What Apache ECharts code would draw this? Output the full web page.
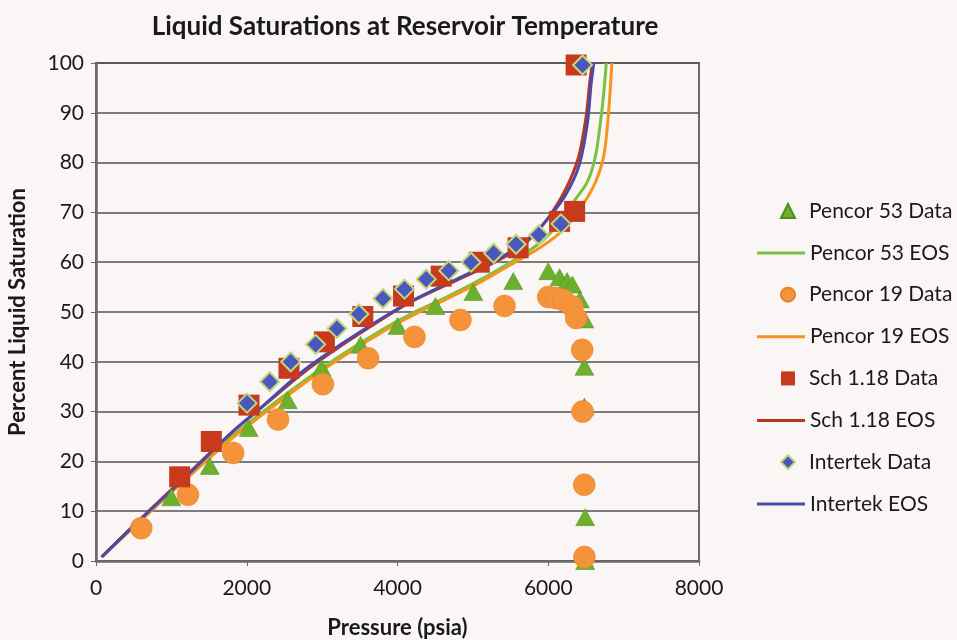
<!DOCTYPE html>
<html><head><meta charset="utf-8">
<script src="https://cdn.jsdelivr.net/npm/echarts@6/dist/echarts.min.js"></script>
<style>html,body{margin:0;padding:0;background:#fbf6f6}#c{width:957px;height:640px}</style>
</head><body><div id="c"></div>
<script>
// ---- data ----
const xTicks = [0, 2000, 4000, 6000, 8000];
const yTicks = [0, 10, 20, 30, 40, 50, 60, 70, 80, 90, 100];

const p53DataP = [1000, 1510, 2026, 2543, 2993, 3510, 4000, 4503, 5007, 5536, 6000, 6150, 6250, 6320, 6420, 6480, 6480, 6480, 6490, 6490];
const p53DataS = [12.8, 19.1, 26.7, 32.3, 38.8, 43.4, 47.2, 51.2, 54.0, 56.2, 58.2, 57.0, 56.2, 55.5, 52.5, 48.5, 39.0, 31.0, 8.8, 0.0];

const p19DataP = [600, 1220, 1820, 2415, 3010, 3610, 4225, 4835, 5420, 6000, 6100, 6200, 6320, 6370, 6450, 6455, 6477, 6480];
const p19DataS = [6.6, 13.3, 21.7, 28.4, 35.5, 40.7, 45.0, 48.4, 51.2, 53.0, 52.8, 52.4, 51.1, 48.8, 42.4, 30.0, 15.3, 0.8];

const schDataP = [1110, 1530, 2030, 2560, 3030, 3540, 4080, 4580, 5085, 5600, 6150, 6350, 6370];
const schDataS = [16.9, 24.0, 31.3, 38.7, 44.0, 49.1, 53.2, 57.2, 60.0, 62.9, 68.2, 70.2, 99.6];

const intDataP = [2004, 2305, 2583, 2914, 3197, 3488, 3806, 4093, 4380, 4680, 4976, 5275, 5573, 5873, 6169, 6455];
const intDataS = [31.7, 36.0, 40.0, 43.5, 46.7, 49.6, 52.7, 54.6, 56.6, 58.3, 60.0, 61.8, 63.6, 65.5, 67.7, 99.6];

const p53EosP = [75, 600, 1200, 1800, 2200, 2700, 3200, 3800, 4200, 4650, 5100, 5500, 5900, 6150, 6320, 6520, 6630, 6720, 6770];
const p53EosS = [0.8, 8.3, 16.8, 25.0, 29.8, 35.5, 40.8, 46.5, 49.8, 53.0, 56.5, 60.0, 64.0, 68.0, 71.8, 76.2, 81.6, 91.6, 100];

const p19EosP = [75, 600, 1200, 1800, 2200, 2700, 3200, 3800, 4200, 4650, 5100, 5500, 5900, 6200, 6477, 6630, 6740, 6808, 6843];
const p19EosS = [0.8, 8.2, 16.5, 24.6, 29.3, 35.0, 40.3, 46.0, 49.3, 52.6, 56.0, 59.5, 63.0, 66.5, 72.0, 76.2, 81.6, 91.6, 100];

const schEosP = [75, 600, 1200, 1800, 2250, 2750, 3250, 3800, 4200, 4700, 5200, 5600, 5800, 6000, 6220, 6400, 6500, 6550, 6585];
const schEosS = [0.8, 8.6, 17.2, 25.8, 31.5, 37.8, 43.2, 48.6, 52.2, 55.8, 59.3, 62.7, 65.3, 68.9, 74.3, 81.0, 89.0, 96.0, 100];

const intEosP = [75, 600, 1200, 1800, 2250, 2750, 3250, 3800, 4200, 4700, 5200, 5600, 5800, 6000, 6230, 6410, 6520, 6570, 6605];
const intEosS = [0.8, 8.5, 17.0, 25.8, 31.6, 38.2, 43.5, 48.8, 52.3, 56.0, 59.6, 63.0, 65.6, 68.8, 73.5, 79.5, 88.0, 96.0, 100];

const names = ['Pencor 53 Data','Pencor 53 EOS','Pencor 19 Data','Pencor 19 EOS','Sch 1.18 Data','Sch 1.18 EOS','Intertek Data','Intertek EOS'];

function zip(a, b){ return a.map((v, i) => [v, b[i]]); }

const FONT = 'Lato';
const cGreen = '#6cb02c', cGreenL = '#7cc242';
const cOrange = '#f5933a', cOrangeL = '#f7941d';
const cRed = '#c83a1e', cRedL = '#b8361f';
const cBlue = '#4a58bd', cBlueL = '#4a4aa8';

const chart = echarts.init(document.getElementById('c'));
chart.setOption({
  backgroundColor: '#fbf6f6',
  animation: false,
  title: {
    text: 'Liquid Saturations at Reservoir Temperature',
    left: 400, top: 9, textAlign: 'center',
    textStyle: { fontFamily: FONT, fontWeight: 'bold', fontSize: 26, color: '#1a1a1a' }
  },
  grid: { left: 96, right: 258, top: 63, bottom: 79, outerBoundsMode: 'none', containLabel: false,
    show: true, borderColor: '#6a6a6a', borderWidth: 2, backgroundColor: 'transparent' },
  legend: [{
    data: [
      { name: names[0], icon: 'triangle' },
      { name: names[2], icon: 'circle' },
      { name: names[4], icon: 'rect' },
      { name: names[6], icon: 'diamond' }
    ],
    orient: 'vertical', left: 780, top: 200, padding: 0, itemWidth: 14, itemHeight: 14, itemGap: 61.7,
    textStyle: { fontFamily: FONT, fontSize: 21, color: '#1a1a1a', lineHeight: 22, padding: [0,0,0,9] },
    selectedMode: false
  }, {
    data: [
      { name: names[1], icon: 'rect' },
      { name: names[3], icon: 'rect' },
      { name: names[5], icon: 'rect' },
      { name: names[7], icon: 'rect' }
    ],
    orient: 'vertical', left: 757, top: 242, padding: 0, itemWidth: 48, itemHeight: 3, itemGap: 61.7,
    textStyle: { fontFamily: FONT, fontSize: 21, color: '#1a1a1a', lineHeight: 22 },
    selectedMode: false
  }],
  xAxis: {
    type: 'value', min: 0, max: 8000, interval: 2000,
    name: 'Pressure (psia)', nameLocation: 'middle', nameGap: 56,
    nameTextStyle: { fontFamily: FONT, fontWeight: 'bold', fontSize: 22, color: '#1a1a1a' },
    axisLine: { show: true, lineStyle: { color: '#6a6a6a', width: 2.5 } },
    axisTick: { show: true, length: 5, lineStyle: { color: '#6a6a6a' } },
    axisLabel: { fontFamily: FONT, fontSize: 21, color: '#1a1a1a', margin: 17,
      formatter: v => xTicks.includes(v) ? String(v) : '' },
    splitLine: { show: false }
  },
  yAxis: {
    type: 'value', min: 0, max: 100, interval: 10,
    name: 'Percent Liquid Saturation', nameLocation: 'middle', nameGap: 67, nameRotate: 90,
    nameTextStyle: { fontFamily: FONT, fontWeight: 'bold', fontSize: 22, color: '#1a1a1a' },
    axisLine: { show: true, lineStyle: { color: '#6a6a6a', width: 2.5 } },
    axisTick: { show: true, length: 5, lineStyle: { color: '#6a6a6a' } },
    axisLabel: { fontFamily: FONT, fontSize: 21, color: '#1a1a1a', margin: 12,
      formatter: v => yTicks.includes(v) ? String(v) : '' },
    splitLine: { show: true, lineStyle: { color: '#555555', width: 1.5 } }
  },
  series: [
    { name: names[0], type: 'scatter', z: 3, symbol: 'triangle', symbolSize: [19, 17],
      itemStyle: { color: cGreen, opacity: 1, borderColor: '#4e8f1c', borderWidth: 0.5 }, data: zip(p53DataP, p53DataS) },
    { name: names[1], type: 'line', z: 2, symbol: 'none', smooth: 0.3,
      lineStyle: { color: cGreenL, width: 3 }, itemStyle: { color: cGreenL }, data: zip(p53EosP, p53EosS) },
    { name: names[2], type: 'scatter', z: 4, symbol: 'circle', symbolSize: 22,
      itemStyle: { color: cOrange, opacity: 1, borderColor: '#e8822a', borderWidth: 0.5 }, data: zip(p19DataP, p19DataS) },
    { name: names[3], type: 'line', z: 2, symbol: 'none', smooth: 0.3,
      lineStyle: { color: cOrangeL, width: 3 }, itemStyle: { color: cOrangeL }, data: zip(p19EosP, p19EosS) },
    { name: names[4], type: 'scatter', z: 5, symbol: 'rect', symbolSize: 21,
      itemStyle: { color: cRed, opacity: 1 }, data: zip(schDataP, schDataS) },
    { name: names[5], type: 'line', z: 2, symbol: 'none', smooth: 0.3,
      lineStyle: { color: cRedL, width: 3 }, itemStyle: { color: cRedL }, data: zip(schEosP, schEosS) },
    { name: names[6], type: 'scatter', z: 6, symbol: 'diamond', symbolSize: 19,
      itemStyle: { color: cBlue, opacity: 1, borderColor: '#c2d67a', borderWidth: 2 }, data: zip(intDataP, intDataS) },
    { name: names[7], type: 'line', z: 2, symbol: 'none', smooth: 0.3,
      lineStyle: { color: cBlueL, width: 3 }, itemStyle: { color: cBlueL }, data: zip(intEosP, intEosS) }
  ]
});
</script></body></html>
